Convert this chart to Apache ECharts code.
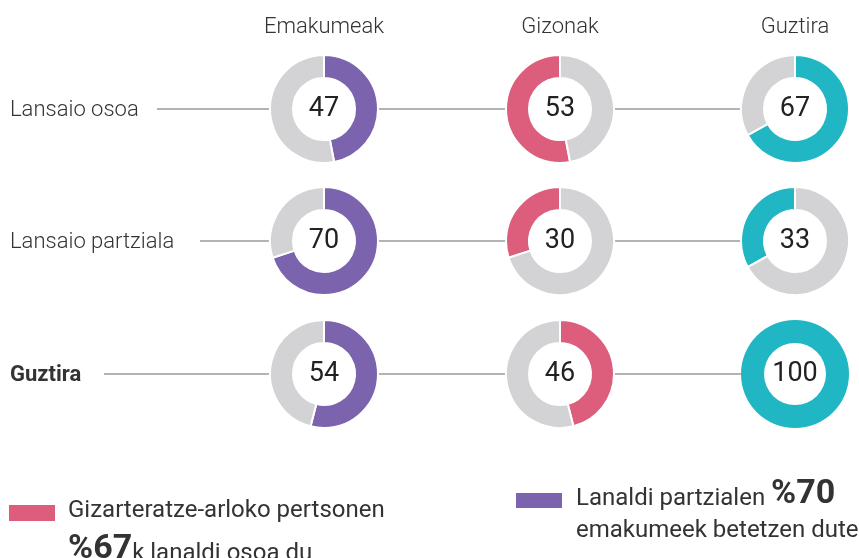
<!DOCTYPE html>
<html>
<head>
<meta charset="utf-8">
<script src="https://cdn.jsdelivr.net/npm/echarts@6/dist/echarts.min.js"></script>
<style>
  html, body { margin: 0; padding: 0; background: #fff; }
  #chart { width: 859px; height: 558px; }
</style>
</head>
<body>
<div id="chart"></div>
<script>
// column headers and row labels
var columns = ['Emakumeak', 'Gizonak', 'Guztira']
var rows = ['Lansaio osoa', 'Lansaio partziala', 'Guztira']

// percentage per row, one array per column
var emakumeak = [47, 70, 54]
var gizonak = [53, 30, 46]
var guztira = [67, 33, 100]

var colors = ['#7b64ad', '#dc5e7c', '#21b6c4']
var grey = '#d3d3d5'
// which way the coloured part runs from 12 o'clock, [row][col]
var clockwise = [[true, false, true], [true, false, false], [true, true, true]]

var colX = [324, 560, 795]
var rowY = [109, 241, 374]
var rOut = 54, rIn = 31
var lineStart = [157, 200, 104]
var font = 'Roboto, "Noto Sans", sans-serif'

var chart = echarts.init(document.getElementById('chart'))
var allValues = [emakumeak, gizonak, guztira]

var series = []
allValues.forEach(function (vals, c) {
  vals.forEach(function (v, r) {
    var data = [
      { value: v, itemStyle: { color: colors[c] },
        label: { show: true, position: 'center', formatter: String(v),
                 fontSize: 27, color: '#222', fontFamily: font } }
    ]
    if (v < 100) data.push({ value: 100 - v, itemStyle: { color: grey }, label: { show: false } })
    series.push({
      type: 'pie',
      center: [colX[c], rowY[r]],
      radius: [rIn, rOut],
      startAngle: 90,
      clockwise: clockwise[r][c],
      silent: true,
      z: 2,
      itemStyle: { borderColor: '#fff', borderWidth: v < 100 ? 2 : 0 },
      labelLine: { show: false },
      data: data
    })
  })
})

var graphic = []
columns.forEach(function (name, c) {
  graphic.push({
    type: 'text', x: colX[c], y: 27,
    style: { text: name, fontSize: 22, fontWeight: 300, fill: '#333', fontFamily: font,
             textAlign: 'center', textVerticalAlign: 'middle' }
  })
})
rows.forEach(function (name, r) {
  graphic.push({
    type: 'text', x: 10, y: rowY[r] + 1,
    style: { text: name, fontSize: 22, fontWeight: r === 2 ? 'bold' : 300, fill: '#333',
             fontFamily: font, textAlign: 'left', textVerticalAlign: 'middle' }
  })
  var xs = [lineStart[r], colX[0] - rOut, colX[0] + rOut, colX[1] - rOut, colX[1] + rOut, colX[2] - rOut]
  for (var i = 0; i < xs.length; i += 2) {
    graphic.push({
      type: 'line', z: 0,
      shape: { x1: xs[i], y1: rowY[r], x2: xs[i + 1], y2: rowY[r] },
      style: { stroke: '#9a9a9a', lineWidth: 1.5 }
    })
  }
})

var rich = {
  n: { fontSize: 24, fill: '#333', fontFamily: font, verticalAlign: 'bottom' },
  b: { fontSize: 34, fontWeight: 'bold', fill: '#333', fontFamily: font, verticalAlign: 'bottom' }
}
function note(x, y, text) {
  return { type: 'text', x: x, y: y,
    style: { text: text, fill: '#333', fontSize: 24, fontFamily: font, rich: rich,
             textAlign: 'left', textVerticalAlign: 'middle' } }
}

// legend notes
graphic.push(
  { type: 'rect', shape: { x: 9, y: 505, width: 46, height: 16 }, style: { fill: colors[1] } },
  note(68, 511, '{n|Gizarteratze-arloko pertsonen}'),
  note(68, 549, '{b|%67}{n|k lanaldi osoa du}'),
  { type: 'rect', shape: { x: 516, y: 493, width: 46, height: 15 }, style: { fill: colors[0] } },
  note(576, 494, '{n|Lanaldi partzialen }{b|%70}'),
  note(576, 531, '{n|emakumeek betetzen dute}')
)

chart.setOption({
  animation: false,
  series: series,
  graphic: graphic
})
</script>
</body>
</html>
